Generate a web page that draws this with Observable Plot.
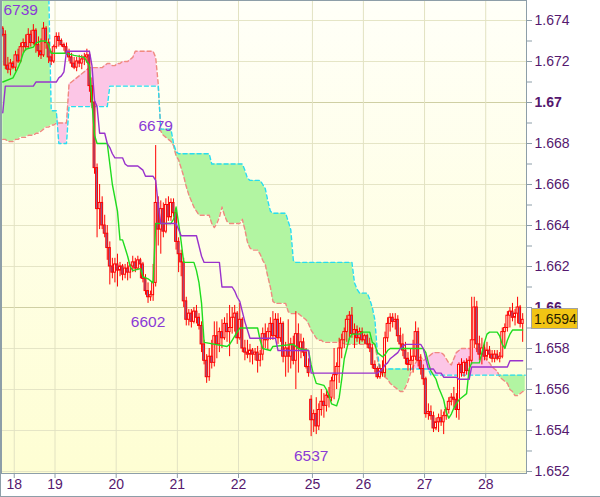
<!DOCTYPE html>
<html><head><meta charset="utf-8">
<script src="https://cdn.jsdelivr.net/npm/d3@7"></script>
<script src="https://cdn.jsdelivr.net/npm/@observablehq/plot@0.6"></script>
<style>
html,body{margin:0;padding:0;background:#fff;}
#chart{width:600px;height:497px;overflow:hidden;}
</style></head><body><div id="chart"></div>
<script>
// Prices in pips: 6733 means 1.6733 (hourly bars, index 0..204)
const openP = [
6736,6733,6718,6716,6719,6717,6723,6720,6727,6729,
6727,6733,6729,6735,6728,6725,6723,6736,6729,6722,
6720,6727,6732,6730,6728,6727,6724,6722,6719,6717,
6720,6719,6721,6722,6723,6708,6700,6668,6648,6651,
6640,6636,6629,6620,6617,6621,6618,6620,6616,6619,
6617,6620,6622,6619,6623,6621,6614,6608,6605,6606,
6612,6651,6638,6648,6637,6650,6644,6651,6646,6632,
6626,6622,6603,6594,6597,6593,6598,6595,6591,6582,
6574,6566,6576,6573,6586,6582,6588,6585,6592,6588,
6590,6595,6597,6585,6594,6580,6578,6577,6579,6577,
6578,6574,6577,6587,6584,6588,6592,6586,6594,6585,
6592,6576,6580,6576,6582,6574,6587,6580,6583,6578,
6571,6555,6545,6548,6542,6550,6554,6552,6557,6556,
6564,6567,6571,6580,6584,6588,6594,6596,6587,6589,
6585,6588,6584,6586,6582,6580,6572,6570,6566,6570,
6568,6585,6592,6595,6593,6594,6586,6582,6579,6575,
6572,6574,6576,6588,6574,6570,6565,6548,6549,6547,
6541,6544,6546,6544,6547,6550,6554,6556,6555,6550,
6572,6568,6573,6569,6574,6584,6600,6582,6577,6580,
6576,6579,6577,6575,6577,6575,6576,6588,6590,6596,
6598,6595,6597,6600,6592];
const highP = [
6737,6735,6722,6721,6720,6725,6726,6729,6731,6733,
6736,6735,6738,6736,6732,6731,6739,6737,6731,6725,
6728,6734,6734,6731,6729,6729,6726,6724,6722,6722,
6723,6723,6724,6726,6725,6712,6702,6670,6660,6654,
6645,6640,6632,6624,6624,6626,6622,6621,6621,6622,
6621,6625,6624,6625,6624,6622,6616,6612,6608,6621,
6679,6654,6652,6651,6653,6654,6653,6653,6648,6634,
6628,6624,6605,6599,6599,6600,6601,6597,6593,6584,
6577,6580,6584,6593,6593,6590,6594,6595,6597,6601,
6600,6601,6598,6602,6595,6584,6584,6582,6580,6580,
6581,6579,6590,6592,6590,6595,6598,6597,6597,6595,
6593,6583,6594,6585,6586,6598,6592,6587,6585,6580,
6575,6557,6550,6556,6553,6560,6558,6560,6561,6566,
6580,6573,6585,6587,6590,6596,6598,6600,6592,6591,
6590,6590,6587,6587,6585,6582,6574,6571,6572,6574,
6588,6595,6597,6597,6597,6596,6590,6587,6583,6578,
6580,6584,6593,6590,6577,6572,6566,6553,6552,6549,
6546,6548,6550,6549,6551,6556,6558,6561,6558,6573,
6575,6574,6575,6576,6605,6605,6603,6586,6585,6583,
6583,6581,6579,6579,6579,6578,6590,6592,6598,6600,
6602,6599,6605,6601,6597];
const lowP = [
6732,6716,6714,6713,6716,6715,6719,6719,6724,6725,
6726,6727,6728,6724,6722,6721,6722,6726,6719,6718,
6719,6726,6727,6727,6725,6723,6720,6717,6716,6715,
6717,6716,6718,6719,6705,6697,6665,6634,6638,6638,
6634,6623,6611,6614,6612,6610,6615,6613,6614,6613,
6614,6617,6617,6618,6614,6612,6606,6602,6603,6603,
6610,6630,6626,6634,6636,6642,6642,6644,6628,6617,
6615,6600,6591,6591,6590,6592,6592,6589,6578,6572,
6563,6564,6570,6571,6575,6578,6580,6584,6583,6576,
6587,6588,6582,6584,6578,6574,6575,6573,6572,6574,
6568,6571,6574,6580,6579,6584,6584,6585,6582,6583,
6573,6566,6568,6570,6572,6560,6568,6575,6576,6570,
6566,6537,6539,6538,6540,6547,6546,6549,6551,6554,
6555,6560,6563,6575,6580,6583,6584,6585,6580,6583,
6582,6583,6582,6580,6578,6570,6568,6565,6565,6566,
6566,6583,6588,6590,6589,6583,6580,6576,6572,6569,
6569,6568,6574,6571,6567,6562,6546,6545,6545,6539,
6540,6539,6542,6538,6545,6548,6552,6551,6546,6545,
6566,6566,6567,6566,6572,6580,6578,6574,6572,6574,
6574,6575,6573,6573,6574,6573,6575,6580,6588,6590,
6593,6591,6592,6590,6583];
const closeP = [
6733,6718,6716,6719,6717,6723,6720,6727,6729,6727,
6733,6729,6735,6728,6725,6723,6736,6729,6722,6720,
6727,6732,6730,6728,6727,6724,6722,6719,6717,6720,
6719,6721,6722,6723,6708,6700,6668,6648,6651,6640,
6636,6629,6620,6617,6621,6618,6620,6616,6619,6617,
6620,6622,6619,6623,6621,6614,6608,6605,6606,6612,
6651,6638,6648,6637,6650,6644,6651,6646,6632,6626,
6622,6603,6594,6597,6593,6598,6595,6591,6582,6574,
6566,6576,6573,6586,6582,6588,6585,6592,6588,6590,
6595,6597,6585,6594,6580,6578,6577,6579,6577,6578,
6574,6577,6587,6584,6588,6592,6586,6594,6585,6592,
6576,6580,6576,6582,6574,6587,6580,6583,6578,6571,
6568,6545,6548,6542,6550,6554,6552,6557,6556,6564,
6567,6571,6580,6584,6588,6594,6596,6587,6589,6585,
6588,6584,6586,6582,6580,6572,6570,6566,6570,6568,
6585,6592,6595,6593,6594,6586,6582,6579,6575,6572,
6574,6576,6588,6574,6570,6565,6548,6549,6547,6541,
6544,6546,6544,6547,6550,6554,6556,6555,6550,6572,
6568,6573,6569,6574,6584,6600,6582,6577,6580,6576,
6579,6577,6575,6577,6575,6576,6588,6590,6596,6598,
6595,6597,6600,6592,6594];

// Tenkan-sen [bar, pips]
const tenkan = [[0,6710],[4,6712],[6,6717],[7,6720],[8,6724],[9,6726],[12,6727],[13,6729],[15,6730],[17,6730],[18,6728],[19,6724],[25,6724],[28,6723],[32,6722],[33,6720],[34,6718],[35,6700],[36,6684],[37,6680],[41,6680],[43,6660],[45,6647],[46,6633],[47,6633],[48,6629],[49,6625],[50,6620],[51,6618],[54,6619],[55,6615],[57,6614],[59,6612],[60,6641],[66,6641],[67,6643],[68,6649],[69,6641],[70,6632],[71,6622],[75,6622],[76,6618],[77,6612],[78,6602],[79,6583],[88,6581],[89,6582],[90,6584],[91,6586],[92,6588],[93,6590],[100,6590],[101,6584],[102,6580],[105,6579],[106,6581],[114,6582],[115,6581],[116,6580],[120,6579],[121,6572],[122,6567],[123,6563],[126,6562],[127,6560],[128,6557],[129,6553],[131,6552],[132,6556],[133,6565],[134,6575],[135,6580],[136,6585],[137,6587],[140,6587],[141,6588],[144,6588],[145,6583],[146,6582],[147,6578],[149,6576],[150,6577],[151,6579],[152,6580],[165,6580],[166,6578],[167,6573],[168,6569],[169,6567],[170,6565],[171,6561],[172,6558],[173,6555],[174,6549],[175,6546],[176,6548],[177,6551],[178,6553],[179,6555],[180,6556],[182,6558],[183,6570],[184,6573],[187,6573],[188,6578],[189,6583],[190,6587],[191,6588],[194,6588],[195,6586],[196,6582],[197,6580],[198,6584],[199,6587],[200,6589],[204,6589]];
// Kijun-sen [bar, pips]
const kijun = [[0,6695],[1,6708],[12,6708],[13,6710],[21,6710],[22,6712],[23,6713],[24,6715],[25,6725],[34,6725],[35,6718],[36,6701],[37,6698],[38,6685],[40,6685],[41,6680],[42,6678],[43,6675],[44,6673],[47,6673],[48,6670],[49,6669],[53,6669],[54,6668],[55,6667],[56,6664],[59,6664],[60,6662],[61,6650],[62,6641],[68,6641],[69,6638],[70,6635],[76,6635],[77,6630],[78,6625],[79,6622],[85,6622],[86,6610],[90,6610],[91,6608],[92,6605],[93,6603],[94,6598],[95,6593],[96,6589],[97,6585],[107,6585],[108,6579],[120,6579],[121,6568],[147,6568],[148,6569],[149,6570],[150,6572],[151,6573],[152,6575],[153,6576],[154,6577],[155,6578],[156,6580],[157,6581],[158,6582],[164,6582],[165,6580],[166,6575],[167,6570],[169,6570],[170,6568],[172,6568],[173,6566],[178,6566],[179,6565],[183,6565],[184,6571],[198,6571],[199,6574],[204,6574]];
// Senkou span A and B, one value per bar 0..205
const spanA = [
6755,6755,6755,6755,6755,6755,6755,6755,6755,6755,
6755,6755,6755,6755,6755,6755,6755,6755,6755,6696,
6696,6696,6680,6680,6680,6680,6698,6698,6698,6698,
6698,6698,6698,6698,6698,6698,6698,6698,6698,6698,
6698,6698,6708,6708,6708,6708,6708,6708,6708,6708,
6708,6708,6708,6708,6708,6708,6708,6708,6708,6708,
6708,6708,6687,6687,6687,6687,6687,6680,6676,6675,
6675,6675,6675,6675,6675,6675,6675,6675,6675,6675,
6675,6675,6670,6670,6670,6670,6670,6670,6670,6670,
6670,6670,6670,6670,6670,6667,6663,6662,6662,6662,
6662,6662,6660,6658,6652,6647,6646,6646,6646,6646,
6646,6646,6642,6638,6623,6622,6622,6622,6622,6622,
6622,6622,6622,6622,6622,6622,6622,6622,6622,6622,
6622,6622,6622,6622,6622,6622,6622,6622,6612,6609,
6607,6607,6607,6607,6604,6600,6594,6578,6570,6570,
6570,6570,6570,6570,6570,6570,6570,6570,6570,6570,
6570,6570,6570,6570,6570,6570,6570,6570,6567,6567,
6567,6567,6567,6567,6567,6567,6567,6567,6567,6567,
6567,6567,6567,6567,6567,6567,6567,6567,6567,6567,
6567,6567,6567,6567,6567,6567,6567,6567,6567,6567,
6567,6567,6567,6567,6567,6567];
const spanB = [
6682,6682,6681,6681,6681,6682,6682,6683,6683,6683,
6684,6684,6684,6685,6685,6686,6687,6688,6688,6689,
6689,6690,6690,6690,6690,6690,6709,6710,6711,6712,
6713,6714,6715,6716,6717,6717,6717,6717,6717,6717,
6718,6719,6719,6718,6718,6719,6719,6720,6720,6720,
6721,6722,6725,6725,6725,6725,6725,6725,6725,6725,
6722,6709,6686,6684,6683,6682,6681,6679,6674,6672,
6668,6664,6659,6655,6652,6649,6647,6645,6645,6645,
6645,6645,6641,6639,6641,6644,6649,6645,6642,6641,
6641,6641,6641,6641,6643,6638,6632,6629,6628,6628,
6628,6626,6623,6621,6615,6610,6603,6602,6602,6602,
6602,6602,6598,6597,6597,6597,6597,6596,6595,6594,
6592,6589,6587,6585,6584,6584,6583,6583,6583,6583,
6583,6583,6583,6583,6582,6582,6582,6582,6582,6582,
6582,6582,6582,6582,6582,6582,6582,6575,6569,6567,
6566,6565,6563,6562,6561,6560,6559,6559,6561,6564,
6568,6571,6573,6575,6576,6574,6575,6576,6577,6578,
6578,6578,6578,6577,6575,6573,6572,6575,6578,6579,
6580,6580,6580,6580,6580,6580,6580,6580,6579,6576,
6574,6573,6571,6570,6569,6566,6565,6564,6563,6560,
6559,6557,6557,6558,6559,6559];

const dayTicks = [5, 21, 45, 69, 93, 122, 142, 166, 190];
const dayLabels = ["18", "19", "20", "21", "22", "25", "26", "27", "28"];
const yTickValues = [1.652, 1.654, 1.656, 1.658, 1.66, 1.662, 1.664, 1.666, 1.668, 1.67, 1.672, 1.674];
const yTickLabels = ["1.652", "1.654", "1.656", "1.658", "1.66", "1.662", "1.664", "1.666", "1.668", "1.67", "1.672", "1.674"];
const boldTicks = ["1.66", "1.67"];
const extremeBars = [60, 57, 121];
const extremeKinds = ["high", "low", "low"];

const toPrice = p => 1 + p / 10000;

const bars = openP.map((o, i) => ({
  i, o: toPrice(o), h: toPrice(highP[i]), l: toPrice(lowP[i]), c: toPrice(closeP[i]), up: closeP[i] >= o
}));
const cloud = spanA.map((a, i) => {
  const A = toPrice(a), B = toPrice(spanB[i]);
  return {x: i + 0.5, a: A, b: B, top: Math.max(A, B)};
});
const yTicks = yTickValues.map((v, i) => ({v, s: yTickLabels[i], bold: boldTicks.includes(yTickLabels[i])}));
const extremes = extremeBars.map((k, i) => ({
  x: k + 0.5, kind: extremeKinds[i],
  v: extremeKinds[i] === "high" ? toPrice(highP[k]) : toPrice(lowP[k]),
  t: String(extremeKinds[i] === "high" ? highP[k] : lowP[k])
}));
const maxHigh = d3.max(highP);
const lastClose = toPrice(closeP[closeP.length - 1]);

const AXIS = "#8d9ea8";
const LABEL = "#55186e";
const LABEL2 = "#8a3ad6";

function background(index, scales, values, dims) {
  const g = d3.create("svg:g");
  const lg = g.append("defs").append("linearGradient").attr("id", "bgGrad")
    .attr("x1", 0).attr("y1", 0).attr("x2", 0).attr("y2", 1);
  lg.append("stop").attr("offset", "0%").attr("stop-color", "#fffff8");
  lg.append("stop").attr("offset", "100%").attr("stop-color", "#fefed3");
  g.append("rect").attr("x", dims.marginLeft).attr("y", dims.marginTop)
    .attr("width", dims.width - dims.marginLeft - dims.marginRight)
    .attr("height", dims.height - dims.marginTop - dims.marginBottom)
    .attr("fill", "url(#bgGrad)");
  return g.node();
}
function outerBorder(index, scales, values, dims) {
  const g = d3.create("svg:g").attr("stroke", AXIS).attr("fill", "none");
  g.append("line").attr("x1", 0.5).attr("x2", 0.5).attr("y1", 0).attr("y2", dims.height);
  g.append("line").attr("x1", 0).attr("x2", dims.width).attr("y1", dims.height - 0.5).attr("y2", dims.height - 0.5);
  return g.node();
}
function priceTag(index, scales, values, dims) {
  const y = scales.y(lastClose);
  const x0 = dims.width - dims.marginRight + 5;
  const g = d3.create("svg:g");
  g.append("rect").attr("x", x0 + 0.5).attr("y", Math.round(y) - 10.5).attr("width", 46).attr("height", 20)
    .attr("fill", "#f2c414").attr("stroke", "#a2a2a2");
  g.append("text").attr("x", x0 + 3).attr("y", y).attr("dy", "0.36em")
    .attr("text-anchor", "start").attr("font-size", 14).attr("fill", "#2a1e00")
    .text(lastClose.toFixed(4));
  return g.node();
}

const chart = Plot.plot({
  width: 600,
  height: 497,
  marginLeft: 1,
  marginRight: 74,
  marginTop: 0,
  marginBottom: 24,
  style: {fontFamily: "'Liberation Sans', Arial, sans-serif", background: "#ffffff", overflow: "hidden"},
  x: {domain: [0, 206], axis: null},
  y: {domain: [1.6519024, 1.674976], axis: null},
  marks: [
    background,
    Plot.ruleY(yTicks.filter(d => !d.bold), {y: "v", stroke: "#e5e5c6"}),
    Plot.ruleY(yTicks.filter(d => d.bold), {y: "v", stroke: "#cfcfa4"}),
    Plot.ruleX(dayTicks, {x: d => d, stroke: "#e2e2c2"}),
    Plot.areaY(cloud, {x: "x", y1: "b", y2: "top", fill: "#b2f5a2", clip: true}),
    Plot.areaY(cloud, {x: "x", y1: "a", y2: "top", fill: "#fcc6e6", clip: true}),
    Plot.line(cloud, {x: "x", y: "b", stroke: "#f08a80", strokeWidth: 1.4, strokeDasharray: "4,3", clip: true}),
    Plot.line(cloud, {x: "x", y: "a", stroke: "#28dcf0", strokeWidth: 1.4, strokeDasharray: "4,3", clip: true}),
    Plot.ruleX(bars, {x: d => d.i + 0.5, y1: "l", y2: "h", stroke: "#ff0000", strokeWidth: 1}),
    Plot.rect(bars.filter(d => d.up), {x1: d => d.i + 0.12, x2: d => d.i + 0.88, y1: "o", y2: "c", fill: "#fffff0", stroke: "#ff0000", strokeWidth: 1}),
    Plot.rect(bars.filter(d => !d.up), {x1: d => d.i + 0.12, x2: d => d.i + 0.88, y1: "o", y2: "c", fill: "#7c6ca8", stroke: "#ff0000", strokeWidth: 1}),
    Plot.line(tenkan, {x: d => d[0] + 0.5, y: d => toPrice(d[1]), stroke: "#1fdc1f", strokeWidth: 1.4}),
    Plot.line(kijun, {x: d => d[0] + 0.5, y: d => toPrice(d[1]), stroke: "#9932cc", strokeWidth: 1.4}),
    Plot.frame({stroke: AXIS}),
    Plot.axisY({anchor: "right", ticks: d3.range(1652, 1675).map(v => v / 1000), tickSize: 5, tickFormat: () => "", color: AXIS, label: null}),
    Plot.axisX({ticks: dayTicks, tickSize: 5, tickFormat: () => "", color: AXIS, label: null}),
    Plot.text(yTicks.filter(d => !d.bold), {y: "v", text: "s", frameAnchor: "right", dx: 8, textAnchor: "start", fontSize: 14, fill: LABEL}),
    Plot.text(yTicks.filter(d => d.bold), {y: "v", text: "s", frameAnchor: "right", dx: 8, textAnchor: "start", fontSize: 14, fontWeight: "bold", fill: LABEL}),
    Plot.text(dayTicks, {x: d => d, text: (d, i) => dayLabels[i], frameAnchor: "bottom", dy: 15, fontSize: 14, fill: LABEL}),
    Plot.text([String(maxHigh)], {text: d => d, frameAnchor: "top-left", dx: 2, dy: 10, lineAnchor: "middle", textAnchor: "start", fontSize: 15.5, fill: LABEL2}),
    Plot.text(extremes.filter(d => d.kind === "high"), {x: "x", y: "v", text: "t", dy: -20, fontSize: 15.5, fill: LABEL2}),
    Plot.text(extremes.filter(d => d.kind === "low"), {x: "x", y: "v", text: "t", dy: 19, fontSize: 15.5, fill: LABEL2}),
    priceTag,
    outerBorder
  ]
});
document.getElementById("chart").appendChild(chart);
</script>
</body></html>
